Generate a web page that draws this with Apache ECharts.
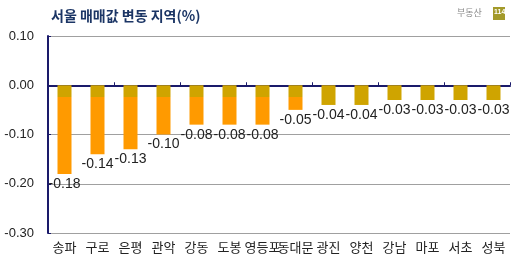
<!DOCTYPE html>
<html><head><meta charset="utf-8">
<script src="https://cdn.jsdelivr.net/npm/echarts@6/dist/echarts.min.js"></script>
<style>html,body{margin:0;padding:0;background:#fff}#c{width:520px;height:260px}</style>
</head><body><div id="c"></div>
<script>
const categories = ['송파','구로','은평','관악','강동','도봉','영등포','동대문','광진','양천','강남','마포','서초','성북'];
const values = [-0.18,-0.14,-0.13,-0.10,-0.08,-0.08,-0.08,-0.05,-0.04,-0.04,-0.03,-0.03,-0.03,-0.03];
const yTicks = { min: -0.3, max: 0.1, interval: 0.1 };
const titleText = '서울 매매값 변동 지역(%)';

const FONT = '"Liberation Sans", "Noto Sans CJK KR", sans-serif';
const pxPerUnit = 493;
const GOLD = '#cfa400', ORANGE = '#ff9a00';
const data = values.map(v => {
  const h = Math.abs(v) * pxPerUnit;
  const s = h <= 21 ? 1 : Math.min(1, 12 / h);
  return {
    value: v,
    itemStyle: {
      color: new echarts.graphic.LinearGradient(0, 0, 0, 1, [
        { offset: 0, color: GOLD },
        { offset: s, color: GOLD },
        { offset: Math.min(1, s + 0.001), color: ORANGE },
        { offset: 1, color: ORANGE }
      ])
    }
  };
});

const chart = echarts.init(document.getElementById('c'));
chart.setOption({
  animation: false,
  title: { text: titleText, left: 46, top: 4,
    textStyle: { fontSize: 14, fontWeight: 'bold', color: '#1b3565', fontFamily: '"Noto Sans CJK KR", sans-serif' } },
  graphic: [
    { type: 'text', left: 457, top: 8, style: { text: '부동산', fill: '#8a8a8a', font: '9px "Noto Sans CJK KR", sans-serif' } },
    { type: 'rect', left: 493, top: 7, shape: { width: 12, height: 13 }, style: { fill: '#a39a2a' } },
    { type: 'text', left: 494, top: 9, style: { text: '114', fill: '#fff', font: 'bold 7px "Liberation Sans", sans-serif' } }
  ],
  grid: { left: 48, right: 10, top: 36, bottom: 27 },
  xAxis: [
    { type: 'category', data: categories, position: 'bottom',
      axisLine: { show: false, onZero: false }, axisTick: { show: false },
      axisLabel: { interval: 0, hideOverlap: false, margin: 8, color: '#222', fontSize: 13, fontFamily: '"Noto Sans CJK KR", sans-serif' } },
    { type: 'category', data: categories, position: 'bottom',
      axisLine: { show: true, onZero: true, lineStyle: { color: '#1a1a6a', width: 2 } },
      axisTick: { show: true, inside: true, length: 3, lineStyle: { color: '#1a1a6a' } },
      axisLabel: { show: false } }
  ],
  yAxis: {
    type: 'value', min: yTicks.min, max: yTicks.max, interval: yTicks.interval,
    axisLine: { show: true, lineStyle: { color: '#1a1a6a', width: 2 } },
    axisTick: { show: true, inside: true, length: 3, lineStyle: { color: '#1a1a6a' } },
    splitLine: { lineStyle: { color: '#a0a0a0', width: 1 } },
    axisLabel: { margin: 14, color: '#222', fontSize: 13, fontFamily: FONT, formatter: v => v.toFixed(2) }
  },
  series: [{
    type: 'bar', xAxisIndex: 0, data: data, barWidth: 14,
    label: { show: true, position: 'bottom', distance: 3, color: '#222', fontSize: 14, fontFamily: FONT,
      formatter: p => p.value.toFixed(2) }
  }]
});
</script></body></html>
